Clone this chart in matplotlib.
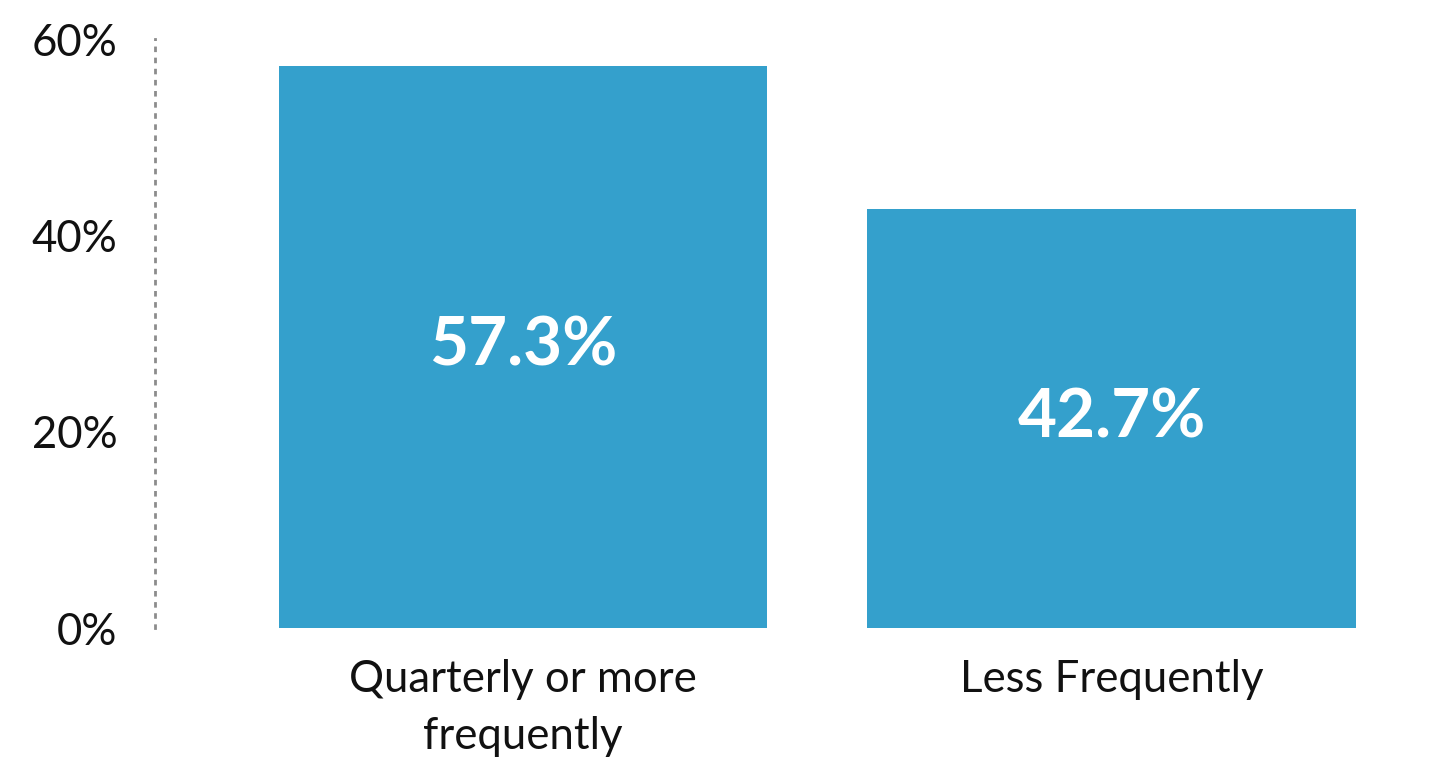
import matplotlib.pyplot as plt
from matplotlib.ticker import FuncFormatter

categories = ['Quarterly or more\nfrequently', 'Less Frequently']
shares = [57.3, 42.7]
y_ticks = [0, 20, 40, 60]

BAR_COLOR = '#34A0CC'

plt.rcParams['font.family'] = ['Lato', 'DejaVu Sans']

fig = plt.figure(figsize=(14.54, 7.57), dpi=100)
ax = fig.add_axes([0.1066, 0.1704, 0.8267, 0.7775])

x = range(len(categories))
bars = ax.bar(x, shares, width=0.83, color=BAR_COLOR)

for bar, val in zip(bars, shares):
    ax.text(bar.get_x() + bar.get_width() / 2, val / 2, f'{val:.1f}%',
            ha='center', va='center', color='white',
            fontsize=48.5, fontweight='bold')

ax.set_xlim(-0.6253, 1.417)
ax.set_ylim(0, 60)
ax.set_yticks(y_ticks)
ax.yaxis.set_major_formatter(FuncFormatter(lambda v, _: f'{v:.0f}%'))
ax.set_xticks(list(x))
ax.set_xticklabels(categories, linespacing=1.5)

ax.tick_params(axis='y', length=0, pad=27, labelsize=31.5, labelcolor='#111111')
ax.tick_params(axis='x', length=0, pad=22, labelsize=31.5, labelcolor='#111111')

for side in ['top', 'right', 'bottom']:
    ax.spines[side].set_visible(False)
# dotted left axis line
ax.spines['left'].set_color('#8c8c8c')
ax.spines['left'].set_linewidth(2)
ax.spines['left'].set_linestyle((0, (1, 3)))

fig.savefig('out.png', dpi=100)
